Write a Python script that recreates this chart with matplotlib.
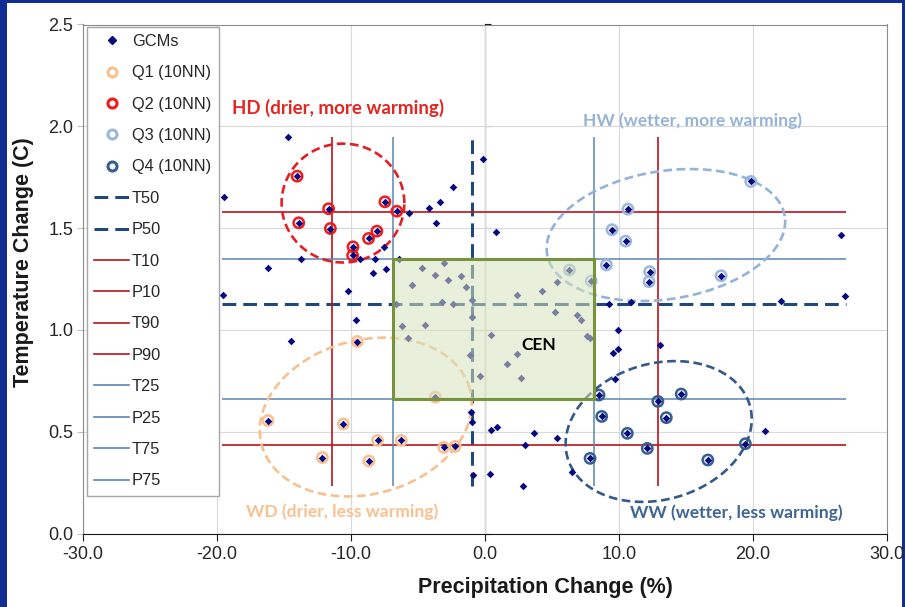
import numpy as np
import matplotlib
matplotlib.use("Agg")
import matplotlib.pyplot as plt
from matplotlib.patches import Rectangle
from matplotlib.lines import Line2D
from matplotlib.ticker import FormatStrFormatter, MultipleLocator

# GCM points that are not in any quadrant set (precip %, temp C)
gcm_x = [-14.7, -19.5, -5.68, -4.19, -3.37, -2.41, -3.67, -7.57, -9.31, -8.19, -13.7, -16.2,
         -8.36, -7.37, -19.53, -10.25, -0.17, 0.84, -9.63,
         -6.4, -4.71, -3.05, -3.72, -1.79, -2.78, -5.46, -1.44, -6.65, -3.22, -2.38, -0.99,
         -0.94, 2.36, 4.22, 5.39, 5.26, 6.87, 7.2, -6.16, -4.49, -5.76, -1.09, -0.37, 0.47,
         2.36, 1.66, 2.66, 7.62, 7.82,
         26.6, 26.9, 22.07, 9.28, 10.92, 9.93, 9.9, 9.56, 9.68, 13.08, 20.9,
         -14.5, -1.02, -0.99, -0.89, 0.42, 0.87, 0.37, 3.62, 2.98, 5.41, 2.83, 6.5]
gcm_y = [1.945, 1.652, 1.572, 1.60, 1.626, 1.704, 1.526, 1.407, 1.35, 1.35, 1.348, 1.305,
         1.281, 1.30, 1.17, 1.19, 1.84, 1.482, 1.049,
         1.346, 1.305, 1.33, 1.27, 1.265, 1.243, 1.219, 1.212, 1.127, 1.137, 1.126, 1.147,
         1.065, 1.173, 1.191, 1.237, 1.087, 1.073, 1.049, 1.02, 1.023, 0.962, 0.876, 0.774, 0.975,
         0.882, 0.832, 0.763, 0.97, 0.96,
         1.466, 1.167, 1.144, 1.126, 1.137, 1.0, 0.908, 0.886, 0.758, 0.925, 0.505,
         0.944, 0.598, 0.549, 0.289, 0.51, 0.523, 0.294, 0.492, 0.435, 0.469, 0.235, 0.302]

# 10 nearest neighbours per quadrant
q1_x = [-9.53, -3.7, -16.2, -10.57, -8.02, -6.25, -12.14, -8.66, -3.08, -2.23]
q1_y = [0.943, 0.67, 0.555, 0.538, 0.457, 0.457, 0.373, 0.356, 0.423, 0.428]
q2_x = [-14.02, -11.67, -13.9, -11.54, -7.47, -6.58, -8.07, -8.69, -9.85, -9.88]
q2_y = [1.755, 1.595, 1.526, 1.498, 1.629, 1.583, 1.485, 1.449, 1.408, 1.366]
q3_x = [19.83, 10.67, 9.48, 10.5, 9.06, 12.29, 12.24, 17.62, 6.3, 7.92]
q3_y = [1.729, 1.593, 1.492, 1.436, 1.319, 1.286, 1.237, 1.266, 1.294, 1.24]
q4_x = [8.51, 8.71, 12.9, 14.64, 13.53, 10.62, 12.11, 7.84, 16.63, 19.43]
q4_y = [0.68, 0.575, 0.649, 0.685, 0.569, 0.492, 0.418, 0.369, 0.361, 0.441]

# percentiles
T10, T25, T50, T75, T90 = 0.435, 0.661, 1.127, 1.347, 1.579
P10, P25, P50, P75, P90 = -11.4, -6.85, -0.97, 8.15, 12.88

# ellipses: center x, center y, width, height, angle (deg, screen space)
ell_hd = (-10.6, 1.623, 9.16, 0.584, 0)
ell_hw = (13.5, 1.466, 17.96, 0.629, 9)
ell_wd = (-8.9, 0.572, 16.08, 0.756, 15)
ell_ww = (12.96, 0.501, 14.15, 0.668, 16)

all_x = np.array(gcm_x + q1_x + q2_x + q3_x + q4_x)
all_y = np.array(gcm_y + q1_y + q2_y + q3_y + q4_y)

W, H = 905, 607
fig = plt.figure(figsize=(W / 100, H / 100), dpi=100)
fig.patch.set_facecolor("#102e91")
fig.patches.append(Rectangle((7 / W, 0), 895 / W, 604 / H, transform=fig.transFigure,
                             facecolor="white", edgecolor="none", zorder=-10))

ax_l, ax_r, ax_b, ax_t = 83 / W, 887 / W, 1 - 533.5 / H, 1 - 24.5 / H
ax = fig.add_axes([ax_l, ax_b, ax_r - ax_l, ax_t - ax_b])
ax.set_xlim(-30, 30)
ax.set_ylim(0, 2.5)
sx = (ax_r - ax_l) * W / 60
sy = (ax_t - ax_b) * H / 2.5

ax.xaxis.set_major_locator(MultipleLocator(10))
ax.yaxis.set_major_locator(MultipleLocator(0.5))
ax.xaxis.set_major_formatter(FormatStrFormatter("%.1f"))
ax.yaxis.set_major_formatter(FormatStrFormatter("%.1f"))
ax.grid(True, color="#d9d9d9", lw=0.8, zorder=0)
ax.set_axisbelow(True)
for s in ["top", "left", "right"]:
    ax.spines[s].set_color("#8c8c8c")
ax.spines["bottom"].set_color("#1a1a1a")
ax.tick_params(axis="x", direction="out", length=5, color="#1a1a1a", labelsize=13,
               labelcolor="#262626", pad=4)
ax.tick_params(axis="y", direction="out", length=4, color="#bfbfbf", labelsize=13,
               labelcolor="#262626", pad=3)
for lab in ax.get_xticklabels() + ax.get_yticklabels():
    lab.set_family("Liberation Sans")

# vertical axis crossing at 0
sec = ax.secondary_yaxis(0.5)
sec.yaxis.set_major_locator(MultipleLocator(0.5))
sec.set_yticklabels([])
sec.tick_params(direction="out", length=4, color="#1a1a1a")
sec.spines["left"].set_color("#1a1a1a")
sec.spines["left"].set_linewidth(1.1)

xmin, xmax = all_x.min() - 0.1, all_x.max() + 0.05
ymin, ymax = all_y.min(), all_y.max()

red = "#b8141c"
steel = "#5a85b2"
navy_d = "#1f497d"
ax.hlines(T50, xmin, xmax, colors=navy_d, lw=2.2, linestyles=(0, (4.5, 2.3)), zorder=2)
ax.vlines(P50, ymin, ymax, colors=navy_d, lw=2.2, linestyles=(0, (4.5, 2.3)), zorder=2)
ax.hlines(T10, xmin, xmax, colors=red, lw=1.2, zorder=2)
ax.vlines(P10, ymin, ymax, colors=red, lw=1.2, zorder=2)
ax.hlines(T90, xmin, xmax, colors=red, lw=1.2, zorder=2)
ax.vlines(P90, ymin, ymax, colors=red, lw=1.2, zorder=2)
ax.hlines(T25, xmin, xmax, colors=steel, lw=1.1, zorder=2)
ax.vlines(P25, ymin, ymax, colors=steel, lw=1.1, zorder=2)
ax.hlines(T75, xmin, xmax, colors=steel, lw=1.1, zorder=2)
ax.vlines(P75, ymin, ymax, colors=steel, lw=1.1, zorder=2)


def ellipse_xy(e):
    cx, cy, w, h, ang = e
    t = np.linspace(0, 2 * np.pi, 300)
    a, b = w / 2 * sx, h / 2 * sy
    th = np.radians(ang)
    px = a * np.cos(t) * np.cos(th) - b * np.sin(t) * np.sin(th)
    py = a * np.cos(t) * np.sin(th) + b * np.sin(t) * np.cos(th)
    return cx + px / sx, cy + py / sy


for e, c in [(ell_hd, "#e31e24"), (ell_hw, "#95b3d7"), (ell_wd, "#f9c08f"), (ell_ww, "#34598a")]:
    ex, ey = ellipse_xy(e)
    ax.plot(ex, ey, color=c, lw=1.9, ls=(0, (3.3, 1.7)), zorder=3.5)

q_cols = ["#f9bf8f", "#ee1c1c", "#9ab7dc", "#365f91"]
for qx, qy, c in zip([q1_x, q2_x, q3_x, q4_x], [q1_y, q2_y, q3_y, q4_y], q_cols):
    ax.scatter(qx, qy, s=55, facecolors="none", edgecolors=c, linewidths=1.8, zorder=3)
ax.scatter(all_x, all_y, s=15, marker="D", color="#0a0a80", linewidths=0, zorder=4)

# central box
ax.add_patch(Rectangle((P25, T25), P75 - P25, T75 - T25, facecolor="#d6e3bc",
                       edgecolor="none", alpha=0.55, zorder=5))
ax.add_patch(Rectangle((P25, T25), P75 - P25, T75 - T25, facecolor="none",
                       edgecolor="#77933c", lw=2.2, zorder=6))

lab_font = dict(family="Lato", weight="bold", ha="center", va="center", zorder=7)
ax.text(-10.95, 2.09, "HD (drier, more warming)", color="#e3261f", fontsize=13.5, **lab_font)
ax.text(15.49, 2.026, "HW (wetter, more warming)", color="#95b3d7", fontsize=12.6, **lab_font)
ax.text(-10.65, 0.106, "WD (drier, less warming)", color="#fac090", fontsize=12.6, **lab_font)
ax.text(18.76, 0.10, "WW (wetter, less warming)", color="#3f6594", fontsize=12.6, **lab_font)
ax.text(4.02, 0.926, "CEN", color="black", fontsize=12.5, **lab_font)

fig.text(545 / W, 1 - 588 / H, "Precipitation Change (%)", family="Liberation Sans",
         weight="bold", fontsize=15.5, ha="center", va="center", color="#1a1a1a")
fig.text(24 / W, 1 - 262 / H, "Temperature Change (C)", family="Liberation Sans",
         weight="bold", fontsize=15.5, ha="center", va="center", rotation=90, color="#1a1a1a")

# legend
handles = [
    Line2D([], [], ls="none", marker="D", ms=4, color="#0a0a80"),
]
for c in q_cols:
    handles.append(Line2D([], [], ls="none", marker="o", ms=6.5, mfc="none", mec=c, mew=2.2))
handles += [Line2D([], [], color=navy_d, lw=2.2, ls=(0, (4.5, 2.3))) for _ in range(2)]
handles += [Line2D([], [], color=red, lw=1.2) for _ in range(4)]
handles += [Line2D([], [], color=steel, lw=1.2) for _ in range(4)]
labels = ["GCMs", "Q1 (10NN)", "Q2 (10NN)", "Q3 (10NN)", "Q4 (10NN)", "T50", "P50",
          "T10", "P10", "T90", "P90", "T25", "P25", "T75", "P75"]
leg = ax.legend(handles, labels, loc="upper left", bbox_to_anchor=(0.005, 0.996),
                borderaxespad=0, fancybox=False, framealpha=1, edgecolor="#a6a6a6",
                prop={"family": "Liberation Sans", "size": 11.8}, labelspacing=1.0,
                handlelength=2.1, handletextpad=0.2, borderpad=0.45)
leg.get_frame().set_linewidth(1.0)
leg.set_zorder(10)
for t in leg.get_texts():
    t.set_color("#262626")

fig.savefig("out.png", dpi=100, facecolor=fig.get_facecolor())
